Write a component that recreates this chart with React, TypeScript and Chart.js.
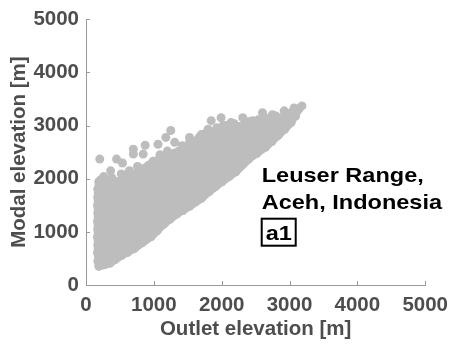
import React, { useEffect, useRef } from "react";
import { Chart, registerables } from "chart.js";

Chart.register(...registerables);

// Axis ticks
const xTicks = [0, 1000, 2000, 3000, 4000, 5000];
const yTicks = [0, 1000, 2000, 3000, 4000, 5000];

// Envelope of the dense point cloud (outlet elevation, modal elevation) in metres
const envelopeX = [189, 174, 172, 174, 189, 451, 698, 930, 1134, 1366, 1584, 1759, 1991, 2238, 2485, 2718, 3023, 3140, 3023, 2834, 2645, 2398, 2209, 2006, 1817, 1701, 1526, 1337, 1148, 959, 712, 523, 349, 189];
const envelopeY = [352, 600, 1200, 1700, 1944, 1944, 2074, 2259, 2407, 2519, 2685, 2852, 2907, 2981, 3019, 3093, 3167, 3315, 3056, 2815, 2593, 2370, 2130, 1944, 1759, 1630, 1481, 1333, 1148, 907, 685, 556, 407, 352];

// Lower edge points
const lowerX = [189, 270, 349, 430, 523, 610, 712, 830, 959, 1050, 1148, 1240, 1337, 1430, 1526, 1610, 1701, 1817, 1910, 2006, 2110, 2209, 2300, 2398, 2520, 2645, 2740, 2834, 2930, 3023, 3090, 3140];
const lowerY = [352, 380, 407, 480, 556, 610, 685, 800, 907, 1020, 1148, 1240, 1333, 1400, 1481, 1560, 1630, 1759, 1850, 1944, 2040, 2130, 2260, 2370, 2480, 2593, 2700, 2815, 2930, 3056, 3180, 3315];

// Left edge points
const leftX = [174, 170, 176, 168, 174, 170, 176, 170, 174, 172];
const leftY = [450, 600, 750, 900, 1050, 1200, 1350, 1500, 1650, 1800];

// Upper edge points
const upperX = [189, 320, 451, 580, 698, 810, 930, 1030, 1134, 1250, 1366, 1480, 1584, 1670, 1759, 1870, 1991, 2110, 2238, 2360, 2485, 2600, 2718, 2870, 3023, 3090, 3140];
const upperY = [1944, 1960, 1944, 2000, 2074, 2170, 2259, 2330, 2407, 2460, 2519, 2600, 2685, 2780, 2852, 2880, 2907, 2950, 2981, 3000, 3019, 3060, 3093, 3130, 3167, 3250, 3315];

// Points just above the upper edge (bumpy rim)
const rimX = [260, 380, 520, 640, 760, 990, 1090, 1200, 1420, 1530, 1700, 1800, 1930, 2060, 2180, 2400, 2540, 2660, 2800, 2990];
const rimY = [2040, 2020, 2090, 2150, 2230, 2330, 2450, 2520, 2620, 2700, 2830, 2930, 2960, 3000, 3040, 3070, 3110, 3140, 3180, 3230];

// Scattered high points above the dense cloud
const outlierX = [203, 451, 538, 363, 698, 698, 872, 843, 1061, 1250, 1177, 1308, 1526, 1672, 596, 218, 1846, 1991, 2020, 2137, 2311, 2456, 2602, 2747, 2922, 3067, 3183, 3009, 2922];
const outlierY = [2370, 2370, 2296, 2148, 2556, 2463, 2630, 2463, 2648, 2907, 2778, 2685, 2778, 2741, 2074, 1981, 3093, 3148, 3000, 3056, 3148, 3093, 3241, 3204, 3278, 3333, 3370, 3056, 3185];

const POINT_COLOR = "#bdbdbd";
const AXIS_COLOR = "#9a9a9a";
const LABEL_COLOR = "#4d4d4d";
const FONT = "'Liberation Sans', Arial, Helvetica, sans-serif";

const zip = (xs: number[], ys: number[]) => xs.map((x, i) => ({ x, y: ys[i] }));

const overlayPlugin = {
  id: "overlay",
  afterDraw(chart: any) {
    const { ctx, scales } = chart;
    const xs = scales.x;
    const ys = scales.y;
    ctx.save();
    // inward ticks
    ctx.strokeStyle = AXIS_COLOR;
    ctx.lineWidth = 1;
    ctx.beginPath();
    xTicks.forEach((v) => {
      const px = Math.round(xs.getPixelForValue(v)) + 0.5;
      ctx.moveTo(px, ys.bottom);
      ctx.lineTo(px, ys.bottom - 4);
    });
    yTicks.forEach((v) => {
      const py = Math.round(ys.getPixelForValue(v)) + 0.5;
      ctx.moveTo(xs.left, py);
      ctx.lineTo(xs.left + 4, py);
    });
    ctx.stroke();

    // annotation text
    const left = xs.getPixelForValue(2590);
    const base1 = ys.getPixelForValue(1944);
    ctx.fillStyle = "#000";
    ctx.font = `bold 21px ${FONT}`;
    ctx.textBaseline = "alphabetic";
    ctx.textAlign = "left";
    const drawStretched = (t: string, x: number, y: number) => {
      ctx.save();
      ctx.translate(x, y);
      ctx.scale(1.12, 1);
      ctx.fillText(t, 0, 0);
      ctx.restore();
    };
    drawStretched("Leuser Range,", left, base1);
    drawStretched("Aceh, Indonesia", left, base1 + 27);
    // boxed label
    ctx.strokeStyle = "#000";
    ctx.lineWidth = 2;
    ctx.strokeRect(left, base1 + 37, 34, 27);
    drawStretched("a1", left + 4, base1 + 58);
    ctx.restore();
  },
};

export default function App() {
  const ref = useRef<HTMLCanvasElement>(null);
  useEffect(() => {
    if (!ref.current) return;
    const pointDs = (data: any[]) => ({
      type: "scatter" as const,
      data,
      pointRadius: 4.5,
      pointHoverRadius: 4.5,
      pointBackgroundColor: POINT_COLOR,
      pointBorderWidth: 0,
      borderWidth: 0,
      showLine: false,
    });
    const tickFont = { family: FONT, size: 20.5, weight: "bold" as const };
    const chart = new Chart(ref.current, {
      type: "scatter",
      data: {
        datasets: [
          {
            type: "line",
            label: "cloud",
            data: zip(envelopeX, envelopeY),
            showLine: true,
            fill: "shape",
            backgroundColor: POINT_COLOR,
            borderColor: POINT_COLOR,
            borderWidth: 8,
            borderJoinStyle: "round",
            borderCapStyle: "round",
            pointRadius: 0,
            tension: 0,
          } as any,
          pointDs(zip(lowerX, lowerY)),
          pointDs(zip(leftX, leftY)),
          pointDs(zip(upperX, upperY)),
          pointDs(zip(rimX, rimY)),
          pointDs(zip(outlierX, outlierY)),
        ],
      },
      options: {
        animation: false,
        responsive: false,
        devicePixelRatio: 1,
        events: [],
        layout: { padding: { top: 15, right: 26, left: 0, bottom: 0 } },
        plugins: { legend: { display: false }, tooltip: { enabled: false } },
        scales: {
          x: {
            type: "linear",
            min: 0,
            max: 5000,
            afterFit: (s: any) => {
              s.height = 62;
            },
            afterBuildTicks: (s: any) => {
              s.ticks = xTicks.map((v) => ({ value: v }));
            },
            grid: { display: false, drawTicks: false },
            border: { display: true, color: AXIS_COLOR, width: 1 },
            ticks: {
              padding: 8,
              color: LABEL_COLOR,
              font: tickFont,
              maxRotation: 0,
              callback: (v: any) => String(v),
            },
            title: {
              display: true,
              text: "Outlet elevation [m]",
              color: LABEL_COLOR,
              font: { family: FONT, size: 20.5, weight: "bold" },
              padding: { top: 0, bottom: 5 },
            },
          },
          y: {
            type: "linear",
            min: 0,
            max: 5000,
            afterFit: (s: any) => {
              s.width = 86;
            },
            afterBuildTicks: (s: any) => {
              s.ticks = yTicks.map((v) => ({ value: v }));
            },
            grid: { display: false, drawTicks: false },
            border: { display: true, color: AXIS_COLOR, width: 1 },
            ticks: {
              padding: 7,
              color: LABEL_COLOR,
              font: tickFont,
              callback: (v: any) => String(v),
            },
            title: {
              display: true,
              text: "Modal elevation [m]",
              color: LABEL_COLOR,
              font: { family: FONT, size: 20.5, weight: "bold" },
              padding: { top: 7, bottom: 0 },
            },
          },
        },
      },
      plugins: [overlayPlugin],
    });
    return () => chart.destroy();
  }, []);
  return (
    <div style={{ position: "fixed", left: 0, top: 0, width: 456, height: 347, background: "#fff" }}>
      <canvas ref={ref} width={456} height={347} style={{ display: "block" }} />
    </div>
  );
}
